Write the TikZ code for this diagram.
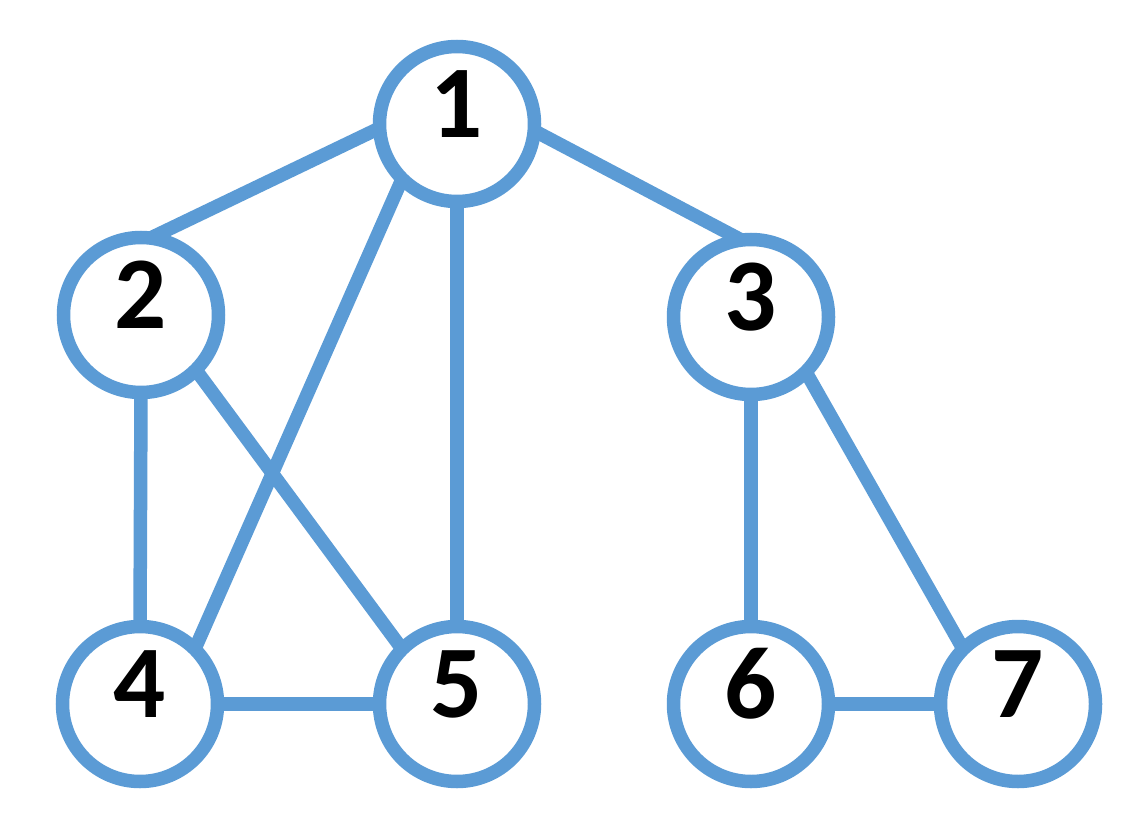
\documentclass[tikz,border=0pt]{standalone}
\usepackage{fontspec}
\setmainfont{Carlito}
\usetikzlibrary{backgrounds}
\definecolor{nodeblue}{HTML}{5B9BD5}
\tikzset{
  vtx/.style={circle, draw=nodeblue, fill=white, line width=13.5pt, minimum size=155pt, inner sep=0pt, outer sep=0pt},
  lbl/.style={font=\fontsize{103}{103}\selectfont\bfseries, text=black, inner sep=0pt},
  edge/.style={draw=nodeblue, line width=13.5pt}
}
\begin{document}
\begin{tikzpicture}[x=1pt, y=-1pt]
\useasboundingbox (0,0) rectangle (1134,826);
\node[vtx] (n1) at (457,124) {};
\node[vtx] (n2) at (141,315) {};
\node[vtx] (n3) at (751,317) {};
\node[vtx] (n4) at (140,704) {};
\node[vtx] (n5) at (457,704) {};
\node[vtx] (n6) at (751,704) {};
\node[vtx] (n7) at (1018,704) {};
\node[lbl] (t1) at ([yshift=20pt]n1) {1};
\node[lbl] (t2) at ([yshift=20pt]n2) {2};
\node[lbl] (t3) at ([yshift=20pt]n3) {3};
\node[lbl] (t4) at ([yshift=20pt]n4) {4};
\node[lbl] (t5) at ([yshift=20pt]n5) {5};
\node[lbl] (t6) at ([yshift=20pt]n6) {6};
\node[lbl] (t7) at ([yshift=20pt]n7) {7};
\begin{scope}[on background layer]
\draw[edge] (n1.183) -- (n2.83);
\draw[edge] (n1.355) -- (n3.97);
\draw[edge] (n1.south west) -- (n4.north east);
\draw[edge] (n1.south) -- (n5.north);
\draw[edge] (n2.south) -- (n4.north);
\draw[edge] (n2.south east) -- (n5.north west);
\draw[edge] (n3.south) -- (n6.north);
\draw[edge] (n3.south east) -- (n7.north west);
\draw[edge] (n4.east) -- (n5.west);
\draw[edge] (n6.east) -- (n7.west);
\end{scope}
\end{tikzpicture}
\end{document}
